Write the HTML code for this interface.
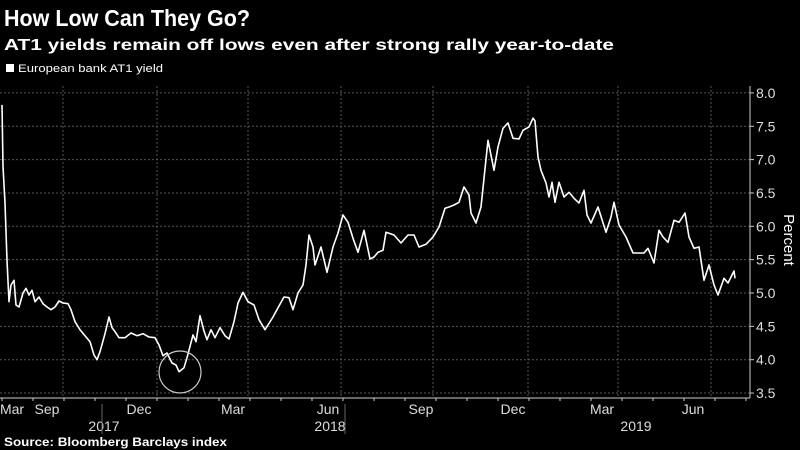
<!DOCTYPE html>
<html><head><meta charset="utf-8"><style>
body{margin:0;background:#000;width:800px;height:450px;overflow:hidden;font-family:"Liberation Sans Narrow","Liberation Sans",sans-serif;color:#fff}
svg{position:absolute;left:0;top:0}
</style></head><body>
<svg id="c" width="800" height="450">
<text x="4" y="26" font-size="23" font-weight="bold" fill="#fff" font-family="Liberation Sans, sans-serif" textLength="246" lengthAdjust="spacingAndGlyphs">How Low Can They Go?</text>
<text x="4" y="50" font-size="16" font-weight="bold" fill="#fff" font-family="Liberation Sans, sans-serif" textLength="610" lengthAdjust="spacingAndGlyphs">AT1 yields remain off lows even after strong rally year-to-date</text>
<rect x="6" y="64" width="8" height="8" fill="#fff"/>
<text x="18" y="72" font-size="11" fill="#fff" textLength="145" lengthAdjust="spacingAndGlyphs">European bank AT1 yield</text>
<g id="grid"></g><g id="axes"></g><g id="plot"></g>
<text x="4" y="446" font-size="12" font-weight="bold" fill="#fff" font-family="Liberation Sans, sans-serif" textLength="223" lengthAdjust="spacingAndGlyphs">Source: Bloomberg Barclays index</text>
<text transform="translate(784,240) rotate(90)" text-anchor="middle" font-size="15" fill="#fff">Percent</text>
</svg>
<script>
const days=[1,2,4,6,8,10,13,15,18,22,25,28,31,34,38,42,46,50,54,58,62,67,70,74,79,84,89,93,96,99,104,108,111,114,118,124,130,136,142,148,154,158,162,166,171,175,178,183,186,192,195,199,203,206,210,214,219,224,228,233,237,242,247,253,258,264,272,277,283,288,292,297,302,305,308,312,314,320,326,332,337,342,347,352,357,363,369,373,377,382,385,393,400,407,413,418,425,432,438,444,448,453,458,463,468,470,475,480,487,493,497,502,507,512,518,522,528,532,534,537,540,545,548,551,554,558,563,568,573,578,583,586,590,597,605,610,613,618,625,632,643,647,653,658,662,667,673,678,684,688,693,698,703,708,713,717,723,727,733,734];
const yields=[7.82,6.9,6.35,5.49,4.87,5.12,5.19,4.82,4.79,5.0,5.07,4.97,5.04,4.87,4.94,4.84,4.79,4.75,4.79,4.88,4.85,4.84,4.75,4.57,4.45,4.36,4.27,4.07,4.0,4.12,4.39,4.64,4.48,4.42,4.33,4.33,4.40,4.36,4.39,4.34,4.33,4.22,4.06,4.10,3.95,3.92,3.82,3.88,4.03,4.37,4.27,4.66,4.43,4.30,4.45,4.33,4.48,4.36,4.31,4.57,4.85,5.01,4.87,4.82,4.60,4.45,4.64,4.78,4.94,4.93,4.75,5.0,5.12,5.42,5.87,5.69,5.42,5.69,5.31,5.69,5.90,6.17,6.06,5.82,5.61,5.94,5.51,5.54,5.61,5.64,5.91,5.87,5.75,5.87,5.87,5.69,5.73,5.84,5.99,6.27,6.29,6.32,6.36,6.59,6.47,6.20,6.05,6.29,7.29,6.84,7.19,7.47,7.55,7.32,7.31,7.44,7.49,7.62,7.58,7.04,6.84,6.65,6.44,6.66,6.36,6.66,6.44,6.51,6.42,6.35,6.54,6.17,6.05,6.29,5.91,6.14,6.36,6.02,5.84,5.60,5.60,5.67,5.45,5.94,5.84,5.76,6.09,6.06,6.20,5.84,5.67,5.69,5.19,5.42,5.12,4.97,5.22,5.15,5.33,5.22];
const yTicks=[3.5,4.0,4.5,5.0,5.5,6.0,6.5,7.0,7.5,8.0];
const monthLabels=["Mar","Sep","Dec","Mar","Jun","Sep","Dec","Mar","Jun"];
const monthLabelDays=[11,46,138,232,327,420,512,601,692];
const yearLabels=["2017","2018","2019"];
const yearLabelDays=[103,329,635];
const gridDays=[62,156,247,340,432,527,617,710];
const yearSepDays=[101,344];
const X=d=>1+d*1.0;
const Y=v=>293-(v-5)*66.7;
const NS="http://www.w3.org/2000/svg";
function mk(tag,attrs,parent){const e=document.createElementNS(NS,tag);for(const k in attrs)e.setAttribute(k,attrs[k]);parent.appendChild(e);return e;}
const grid=document.getElementById('grid'),axes=document.getElementById('axes'),plot=document.getElementById('plot');
yTicks.forEach(t=>{
 const l=mk('line',{x1:0,x2:750,y1:Y(t),y2:Y(t),stroke:'#555','stroke-width':1,'stroke-dasharray':'2,2'},grid);
 
 
 const tk=mk('line',{x1:750,x2:754,y1:Y(t),y2:Y(t),stroke:'#ccc'},axes);
 
 
 const tx=mk('text',{x:756,y:Y(t)+5,'font-size':14,fill:'#ddd'},axes);
 tx.textContent=t.toFixed(1);
 
 
});
gridDays.forEach(d=>{
 const l=mk('line',{x1:X(d),x2:X(d),y1:86,y2:398,stroke:'#555','stroke-dasharray':'2,2'},grid);
 
 
});
const ax=mk('line',{x1:750,x2:750,y1:86,y2:398,stroke:'#ccc'},axes);


const bx=mk('line',{x1:0,x2:750,y1:398,y2:398,stroke:'#ccc'},axes);


for(let d=0;d<=745;d+=31){
 const t=mk('line',{x1:X(d)+1,x2:X(d)+1,y1:398,y2:401,stroke:'#ccc'},axes);
 
 
}
monthLabels.forEach((m,i)=>{
 const t=mk('text',{x:X(monthLabelDays[i]),y:414,'font-size':14,fill:'#ddd','text-anchor':'middle'},axes);
 t.textContent=m;
 
 
});
yearLabels.forEach((m,i)=>{
 const t=mk('text',{x:X(yearLabelDays[i]),y:431,'font-size':14,fill:'#ddd','text-anchor':'middle'},axes);
 t.textContent=m;
 
 
});
yearSepDays.forEach(d=>{
 const l=mk('line',{x1:X(d),x2:X(d),y1:404,y2:434,stroke:'#666'},axes);
 
 
});
const pts=days.map((d,i)=>X(d).toFixed(1)+','+Y(yields[i]).toFixed(1)).join(' ');
const line=mk('polyline',{points:pts,fill:'none',stroke:'#fff','stroke-width':1.6,'stroke-linejoin':'round'},plot);


const circ=mk('circle',{cx:180,cy:372,r:21,fill:'none',stroke:'#ccc','stroke-width':1.2},plot);


</script>
</body></html>
